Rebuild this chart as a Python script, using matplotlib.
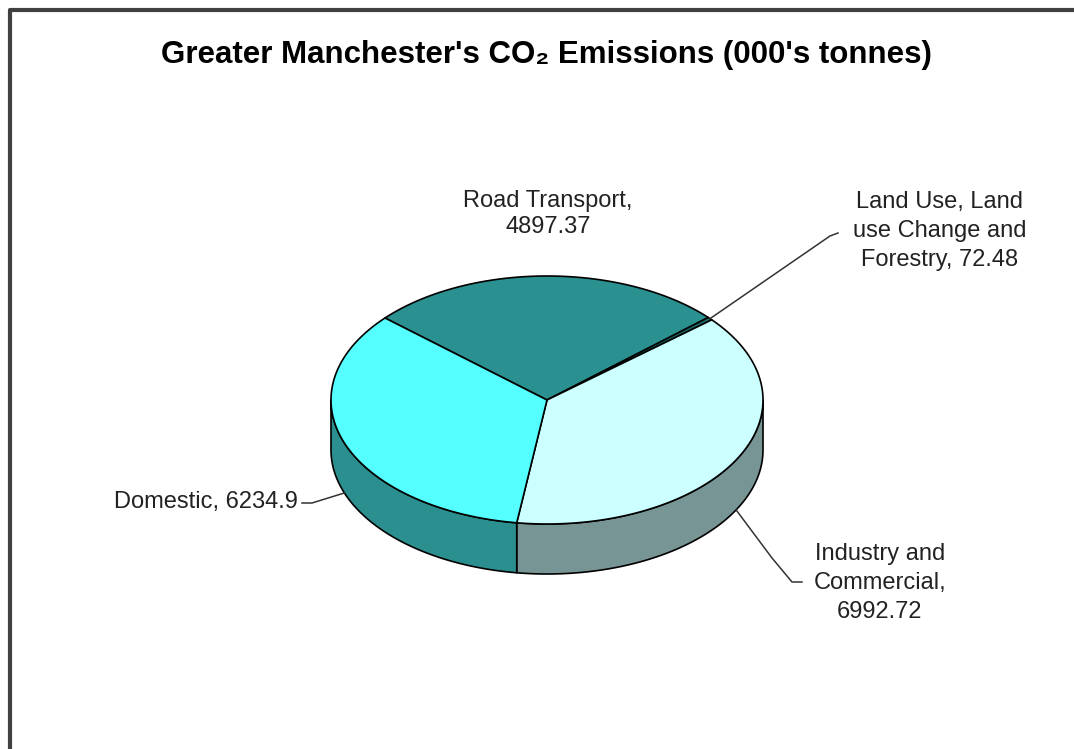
import numpy as np
import matplotlib.pyplot as plt
from matplotlib.patches import Polygon

plt.rcParams['font.family'] = ['Liberation Sans', 'DejaVu Sans']

# data
labels = ["Road Transport", "Land Use, Land use Change and Forestry",
          "Industry and Commercial", "Domestic"]
values = [4897.37, 72.48, 6992.72, 6234.9]
label_text = ["Road Transport,\n4897.37",
              "Land Use, Land\nuse Change and\nForestry, 72.48",
              "Industry and\nCommercial,\n6992.72",
              "Domestic, 6234.9"]
top_colors = ["#2b9090", "#1d6b6b", "#ccffff", "#55ffff"]
side_colors = ["#237a7a", "#1d6b6b", "#789595", "#2b8f8f"]

# pie geometry (pixel space)
cx, cy, rx, ry, depth = 547, 400, 216, 124, 50
start = 138.6  # degrees, slices go clockwise

fig = plt.figure(figsize=(10.74, 7.49), dpi=100)
ax = fig.add_axes([0, 0, 1, 1])
ax.set_xlim(0, 1074)
ax.set_ylim(749, 0)
ax.axis("off")

# frame
ax.plot([10, 10, 1074], [749, 10, 10], color="#404040", lw=3, solid_capstyle="butt")

def pt(th):
    t = np.radians(th)
    return cx + rx * np.cos(t), cy - ry * np.sin(t)

fr = np.array(values) / sum(values)
bounds = start - 360 * np.concatenate([[0], np.cumsum(fr)])

# side walls (front half only)
for i in range(len(values)):
    a1, a0 = bounds[i], bounds[i + 1]  # a1 > a0
    segs = []
    for k in (-360, 0):
        s, e = max(a0, -180 + k), min(a1, 0 + k)
        if e > s:
            segs.append((s, e))
    for s, e in segs:
        th = np.linspace(s, e, 80)
        xs, ys = pt(th)
        poly = np.column_stack([np.r_[xs, xs[::-1]], np.r_[ys, ys[::-1] + depth]])
        ax.add_patch(Polygon(poly, closed=True, facecolor=side_colors[i],
                             edgecolor="black", lw=1.2, joinstyle="round"))

# top faces
for i in range(len(values)):
    th = np.linspace(bounds[i], bounds[i + 1], 200)
    xs, ys = pt(th)
    poly = np.column_stack([np.r_[cx, xs], np.r_[cy, ys]])
    ax.add_patch(Polygon(poly, closed=True, facecolor=top_colors[i],
                         edgecolor="black", lw=1.2, joinstyle="round"))

# labels
mids = (bounds[:-1] + bounds[1:]) / 2
fs = 17
tc = "#222222"

ax.text(548, 214, label_text[0], ha="center", va="center", fontsize=fs,
        color=tc, linespacing=1.25)

# Land use
ax_, ay_ = pt(mids[1])
ax.plot([ax_, 830, 838], [ay_, 236, 233], color="#333333", lw=1.1)
ax.text(940, 231, label_text[1], ha="center", va="center", fontsize=fs,
        color=tc, linespacing=1.4)

# Industry
bx, by = pt(mids[2])
ax.plot([bx, 772, 792, 802], [by + depth, 558, 582, 582], color="#333333", lw=1.1)
ax.text(880, 583, label_text[2], ha="center", va="center", fontsize=fs,
        color=tc, linespacing=1.4)

# Domestic
dx, dy = pt(mids[3])
ax.plot([dx, 312, 302], [dy + depth, 503, 503], color="#333333", lw=1.1)
ax.text(298, 502, label_text[3], ha="right", va="center", fontsize=fs, color=tc)

ax.text(546, 55, "Greater Manchester's CO\u2082 Emissions (000's tonnes)",
        ha="center", va="center", fontsize=22.5, fontweight="bold", color="black")

fig.savefig("out.png", dpi=100)
